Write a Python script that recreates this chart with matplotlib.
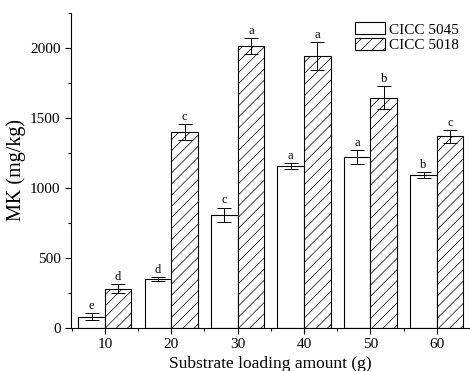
import numpy as np
import matplotlib
matplotlib.use("Agg")
import matplotlib.pyplot as plt
from matplotlib.ticker import MultipleLocator

plt.rcParams['font.family'] = ['Liberation Serif', 'DejaVu Serif']
plt.rcParams['hatch.linewidth'] = 0.5
plt.rcParams['hatch.color'] = '#444444'

# --- data
loading = [10, 20, 30, 40, 50, 60]
mk_5045 = [80, 347, 810, 1158, 1218, 1094]
err_5045 = [25, 15, 50, 20, 50, 20]
mk_5018 = [280, 1400, 2015, 1943, 1646, 1368]
err_5018 = [33, 58, 58, 100, 80, 45]
lab_5045 = ['e', 'd', 'c', 'a', 'a', 'b']
lab_5018 = ['d', 'c', 'a', 'a', 'b', 'c']

x = np.array(loading, dtype=float)
w = 4.0

fig = plt.figure(figsize=(4.7, 3.71), dpi=100)
ax = fig.add_axes([0.151, 0.116, 0.849, 0.849])

ax.bar(x - w / 2, mk_5045, w, color='white', edgecolor='black', linewidth=0.8,
       yerr=err_5045, capsize=5, error_kw=dict(elinewidth=0.7, capthick=0.7),
       label='CICC 5045')
ax.bar(x + w / 2, mk_5018, w, color='white', edgecolor='black', linewidth=0.8,
       hatch='///', yerr=err_5018, capsize=5,
       error_kw=dict(elinewidth=0.7, capthick=0.7), label='CICC 5018')

for xi, v, e, t in zip(x - w / 2, mk_5045, err_5045, lab_5045):
    ax.text(xi, v + e + 8, t, ha='center', va='bottom', fontsize=9)
for xi, v, e, t in zip(x + w / 2, mk_5018, err_5018, lab_5018):
    ax.text(xi, v + e + 8, t, ha='center', va='bottom', fontsize=9)

ax.set_xlim(4.9, 65)
ax.set_ylim(0, 2250)
ax.set_xticks(loading)
ax.xaxis.set_minor_locator(MultipleLocator(5))
ax.yaxis.set_major_locator(MultipleLocator(500))
ax.yaxis.set_minor_locator(MultipleLocator(250))
ax.tick_params(which='major', direction='out', length=4, width=0.8, labelsize=11)
ax.tick_params(which='minor', direction='out', length=2.5, width=0.8)
ax.set_yticks([0, 500, 1000, 1500, 2000])

for s in ['top', 'right']:
    ax.spines[s].set_visible(False)

ax.set_ylabel('MK (mg/kg)', fontsize=14.5, labelpad=3)
ax.set_xlabel('Substrate loading amount (g)', fontsize=12.5, labelpad=3)

ax.legend(loc='upper right', bbox_to_anchor=(0.995, 1.0), frameon=False,
          fontsize=11, handlelength=2.0, handleheight=0.85, handletextpad=0.25,
          labelspacing=0.1, borderaxespad=0.2)

fig.savefig('out.png', dpi=100)
